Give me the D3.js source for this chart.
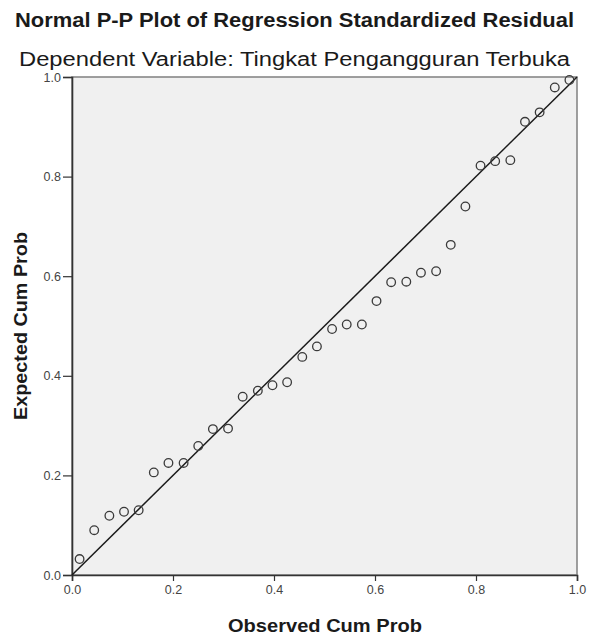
<!DOCTYPE html>
<html>
<head>
<meta charset="utf-8">
<script src="https://cdn.jsdelivr.net/npm/d3@7"></script>
<style>
  html, body { margin: 0; padding: 0; background: #ffffff; }
  svg { display: block; }
</style>
</head>
<body>
<svg id="chart" width="589" height="637"></svg>
<script>
// ---- Data ----
const titleText = "Normal P-P Plot of Regression Standardized Residual";
const subtitleText = "Dependent Variable: Tingkat Pengangguran Terbuka";
const xLabel = "Observed Cum Prob";
const yLabel = "Expected Cum Prob";
const tickValues = [0.0, 0.2, 0.4, 0.6, 0.8, 1.0];

const observedCumProb = [
  0.015, 0.044, 0.074, 0.103, 0.132, 0.162, 0.191, 0.221, 0.250, 0.279,
  0.309, 0.338, 0.368, 0.397, 0.426, 0.456, 0.485, 0.515, 0.544, 0.574,
  0.603, 0.632, 0.662, 0.691, 0.721, 0.750, 0.779, 0.809, 0.838, 0.868,
  0.897, 0.926, 0.956, 0.985
];
const expectedCumProb = [
  0.032, 0.090, 0.119, 0.127, 0.130, 0.206, 0.225, 0.225, 0.259, 0.293,
  0.294, 0.358, 0.370, 0.381, 0.387, 0.438, 0.459, 0.494, 0.503, 0.503,
  0.550, 0.588, 0.589, 0.607, 0.610, 0.663, 0.740, 0.822, 0.831, 0.833,
  0.910, 0.929, 0.979, 0.994
];
const refLine = [[0, 0], [1, 1]];

// ---- Layout ----
const svg = d3.select("#chart");
const plot = { left: 72, right: 577, top: 77, bottom: 575 };

const x = d3.scaleLinear().domain([0, 1]).range([plot.left, plot.right]);
const y = d3.scaleLinear().domain([0, 1]).range([plot.bottom, plot.top]);

// Titles
svg.append("text")
  .attr("x", 294.5).attr("y", 27)
  .attr("text-anchor", "middle")
  .attr("font-family", "Liberation Sans, Arial, sans-serif")
  .attr("font-weight", "bold")
  .attr("font-size", 19.5)
  .attr("fill", "#1a1a1a")
  .attr("textLength", 559)
  .attr("lengthAdjust", "spacingAndGlyphs")
  .text(titleText);

svg.append("text")
  .attr("x", 294.5).attr("y", 66)
  .attr("text-anchor", "middle")
  .attr("font-family", "Liberation Sans, Arial, sans-serif")
  .attr("font-size", 20)
  .attr("fill", "#1a1a1a")
  .attr("textLength", 551)
  .attr("lengthAdjust", "spacingAndGlyphs")
  .text(subtitleText);

// Plot background
svg.append("rect")
  .attr("x", plot.left).attr("y", plot.top)
  .attr("width", plot.right - plot.left)
  .attr("height", plot.bottom - plot.top)
  .attr("fill", "#f0f0f0")
  .attr("stroke", "#888888")
  .attr("stroke-width", 1.6);

// Axes
const xAxis = d3.axisBottom(x).tickValues(tickValues).tickSize(6).tickPadding(4)
  .tickFormat(d3.format(".1f"));
const yAxis = d3.axisLeft(y).tickValues(tickValues).tickSize(9).tickPadding(2)
  .tickFormat(d3.format(".1f"));

const gx = svg.append("g").attr("transform", `translate(0,${plot.bottom})`).call(xAxis);
const gy = svg.append("g").attr("transform", `translate(${plot.left},0)`).call(yAxis);

[gx, gy].forEach(g => {
  g.select(".domain").attr("stroke", "#333333").attr("stroke-width", 1.6);
  g.selectAll(".tick line").attr("stroke", "#333333").attr("stroke-width", 1.2);
  g.selectAll(".tick text")
    .attr("font-family", "Liberation Sans, Arial, sans-serif")
    .attr("font-size", 12.5)
    .attr("fill", "#444444");
});

// Axis labels
svg.append("text")
  .attr("x", 325).attr("y", 632)
  .attr("text-anchor", "middle")
  .attr("font-family", "Liberation Sans, Arial, sans-serif")
  .attr("font-weight", "bold")
  .attr("font-size", 17.5)
  .attr("fill", "#1a1a1a")
  .attr("textLength", 194)
  .attr("lengthAdjust", "spacingAndGlyphs")
  .text(xLabel);

svg.append("text")
  .attr("transform", `translate(27,${(plot.top + plot.bottom) / 2}) rotate(-90)`)
  .attr("text-anchor", "middle")
  .attr("font-family", "Liberation Sans, Arial, sans-serif")
  .attr("font-weight", "bold")
  .attr("font-size", 17.5)
  .attr("fill", "#1a1a1a")
  .attr("textLength", 188)
  .attr("lengthAdjust", "spacingAndGlyphs")
  .text(yLabel);

// Reference line
const line = d3.line().x(d => x(d[0])).y(d => y(d[1]));
svg.append("path")
  .datum(refLine)
  .attr("d", line)
  .attr("fill", "none")
  .attr("stroke", "#1a1a1a")
  .attr("stroke-width", 1.5);

// Points
const pts = observedCumProb.map((v, i) => ({ ox: v, ey: expectedCumProb[i] }));
svg.append("g").selectAll("circle")
  .data(pts)
  .join("circle")
  .attr("cx", d => x(d.ox))
  .attr("cy", d => y(d.ey))
  .attr("r", 4.3)
  .attr("fill", "none")
  .attr("stroke", "#3a3a3a")
  .attr("stroke-width", 1.3);
</script>
</body>
</html>
